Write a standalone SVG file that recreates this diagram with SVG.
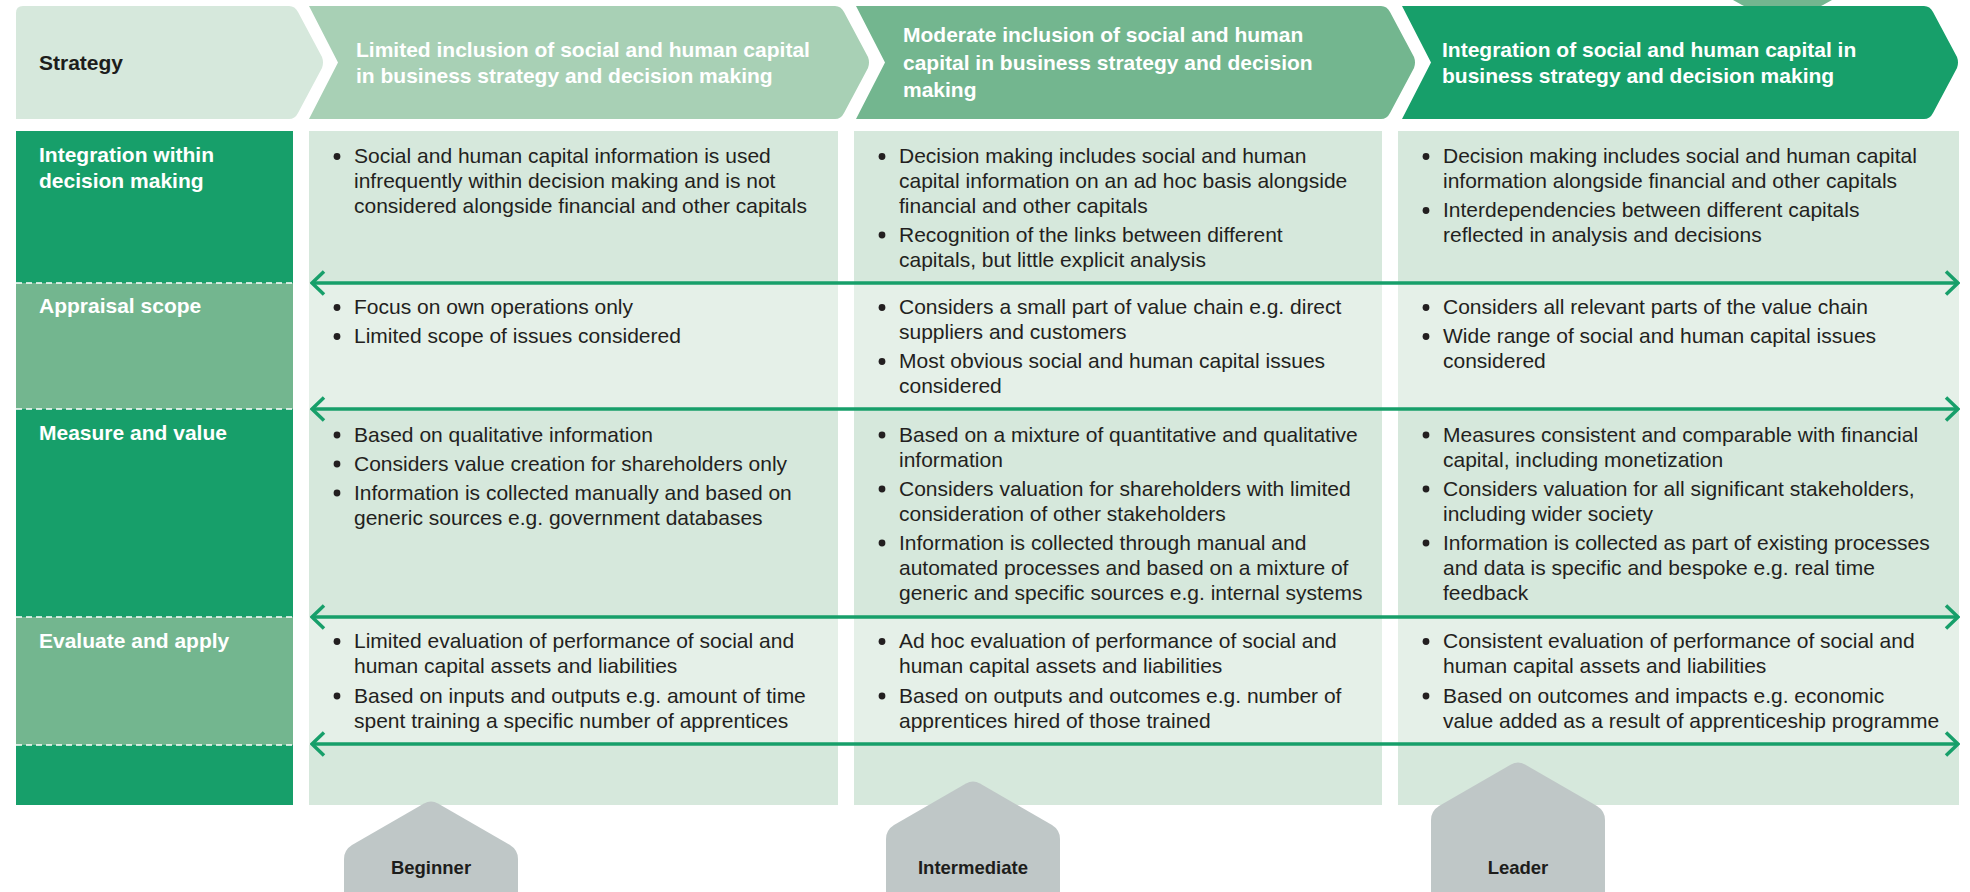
<svg xmlns="http://www.w3.org/2000/svg" width="1970" height="892" viewBox="0 0 1970 892">
<style>
  text { font-family: "Liberation Sans", Arial, Helvetica, sans-serif; }
  .hdr { font-size: 21px; font-weight: bold; fill: #ffffff; }
  .hdr-dark { font-size: 21px; font-weight: bold; fill: #1d1d1b; }
  .lbl { font-size: 21px; font-weight: bold; fill: #ffffff; }
  .body { font-size: 21px; fill: #231f20; }
  .badge-t { font-size: 18.5px; font-weight: bold; fill: #1d1d1b; text-anchor: middle; }
  .dk { fill: #179f6a; }
  .lt { fill: #73b68f; }
  .c1 { fill: #d6e8dc; }
  .c2 { fill: #e5f0e8; }
  .dash { stroke: #ffffff; stroke-width: 1.5; stroke-dasharray: 6 4; fill: none; }
  .bul { fill: #231f20; }
  .badge { fill: #bfc7c7; }
  .arrow { stroke: #179f6a; stroke-width: 3.5; fill: none; marker-start: url(#ah); marker-end: url(#ah); }
</style>
<defs>
  <marker id="ah" viewBox="0 0 16 26" refX="14" refY="13" markerWidth="16" markerHeight="26" markerUnits="userSpaceOnUse" orient="auto-start-reverse">
    <path d="M2,1.5 L14,13 L2,24.5" fill="none" stroke="#179f6a" stroke-width="3.5"/>
  </marker>
  <circle id="b" r="3.4"/>
</defs>
<rect width="1970" height="892" fill="#ffffff"/>

<!-- partial shape at top right -->
<path d="M1733,0 L1832,0 L1823,5 Q1821,6.5 1817,6.5 L1748,6.5 Q1744,6.5 1742,5 Z" fill="#73b68f"/>

<!-- Header -->
<g id="hdr-strategy">
  <path d="M16,13 Q16,6 23,6 L289,6 Q295,6 298,12 L322,57 Q324,62.5 322,68 L298,113 Q295,119 289,119 L16,119 Z" fill="#d6e8dc"/>
  <text class="hdr-dark" x="39" y="70">Strategy</text>
</g>
<g id="hdr-limited">
  <path d="M309,6 L835,6 Q841,6 844,12 L868,57 Q870,62.5 868,68 L844,113 Q841,119 835,119 L309,119 L338,62.5 Z" fill="#a8d0b5"/>
  <text class="hdr" x="356" y="57">Limited inclusion of social and human capital</text>
  <text class="hdr" x="356" y="83">in business strategy and decision making</text>
</g>
<g id="hdr-moderate">
  <path d="M856,6 L1381,6 Q1387,6 1390,12 L1414,57 Q1416,62.5 1414,68 L1390,113 Q1387,119 1381,119 L856,119 L885,62.5 Z" fill="#73b68f"/>
  <text class="hdr" x="903" y="42">Moderate inclusion of social and human</text>
  <text class="hdr" x="903" y="69.5">capital in business strategy and decision</text>
  <text class="hdr" x="903" y="97">making</text>
</g>
<g id="hdr-integration">
  <path d="M1402,6 L1924,6 Q1930,6 1933,12 L1957,57 Q1959,62.5 1957,68 L1933,113 Q1930,119 1924,119 L1402,119 L1431,62.5 Z" fill="#179f6a"/>
  <text class="hdr" x="1442" y="57">Integration of social and human capital in</text>
  <text class="hdr" x="1442" y="83">business strategy and decision making</text>
</g>

<!-- Row labels -->
<g id="label-column">
  <rect class="dk" x="16" y="131" width="277" height="152"/>
  <rect class="lt" x="16" y="283" width="277" height="126"/>
  <rect class="dk" x="16" y="409" width="277" height="208"/>
  <rect class="lt" x="16" y="617" width="277" height="128"/>
  <rect class="dk" x="16" y="745" width="277" height="60"/>
  <line class="dash" x1="16" y1="283" x2="293" y2="283"/>
  <line class="dash" x1="16" y1="409" x2="293" y2="409"/>
  <line class="dash" x1="16" y1="617" x2="293" y2="617"/>
  <line class="dash" x1="16" y1="745" x2="293" y2="745"/>
</g>
<g id="label-integration">
  <text class="lbl" x="39" y="162">Integration within</text>
  <text class="lbl" x="39" y="188">decision making</text>
</g>
<g id="label-appraisal"><text class="lbl" x="39" y="313">Appraisal scope</text></g>
<g id="label-measure"><text class="lbl" x="39" y="440">Measure and value</text></g>
<g id="label-evaluate"><text class="lbl" x="39" y="648">Evaluate and apply</text></g>

<!-- Column backgrounds -->
<g id="col-backgrounds">
  <rect class="c1" x="309" y="131" width="529" height="152"/>
  <rect class="c2" x="309" y="283" width="529" height="126"/>
  <rect class="c1" x="309" y="409" width="529" height="208"/>
  <rect class="c2" x="309" y="617" width="529" height="128"/>
  <rect class="c1" x="309" y="745" width="529" height="60"/>
  <rect class="c1" x="854" y="131" width="528" height="152"/>
  <rect class="c2" x="854" y="283" width="528" height="126"/>
  <rect class="c1" x="854" y="409" width="528" height="208"/>
  <rect class="c2" x="854" y="617" width="528" height="128"/>
  <rect class="c1" x="854" y="745" width="528" height="60"/>
  <rect class="c1" x="1398" y="131" width="561" height="152"/>
  <rect class="c2" x="1398" y="283" width="561" height="126"/>
  <rect class="c1" x="1398" y="409" width="561" height="208"/>
  <rect class="c2" x="1398" y="617" width="561" height="128"/>
  <rect class="c1" x="1398" y="745" width="561" height="60"/>
</g>

<!-- Row 1: Integration within decision making -->
<g id="cell-r1-c1">
  <use href="#b" class="bul" x="337" y="156.5"/>
  <text class="body" x="354" y="163">Social and human capital information is used</text>
  <text class="body" x="354" y="188">infrequently within decision making and is not</text>
  <text class="body" x="354" y="212.5">considered alongside financial and other capitals</text>
</g>
<g id="cell-r1-c2">
  <use href="#b" class="bul" x="882" y="156.5"/>
  <text class="body" x="899" y="163">Decision making includes social and human</text>
  <text class="body" x="899" y="188">capital information on an ad hoc basis alongside</text>
  <text class="body" x="899" y="212.5">financial and other capitals</text>
  <use href="#b" class="bul" x="882" y="235"/>
  <text class="body" x="899" y="241.5">Recognition of the links between different</text>
  <text class="body" x="899" y="266.5">capitals, but little explicit analysis</text>
</g>
<g id="cell-r1-c3">
  <use href="#b" class="bul" x="1426" y="156.5"/>
  <text class="body" x="1443" y="163">Decision making includes social and human capital</text>
  <text class="body" x="1443" y="188">information alongside financial and other capitals</text>
  <use href="#b" class="bul" x="1426" y="210.5"/>
  <text class="body" x="1443" y="217">Interdependencies between different capitals</text>
  <text class="body" x="1443" y="242">reflected in analysis and decisions</text>
</g>

<!-- Row 2: Appraisal scope -->
<g id="cell-r2-c1">
  <use href="#b" class="bul" x="337" y="307.5"/>
  <text class="body" x="354" y="314">Focus on own operations only</text>
  <use href="#b" class="bul" x="337" y="336.5"/>
  <text class="body" x="354" y="343">Limited scope of issues considered</text>
</g>
<g id="cell-r2-c2">
  <use href="#b" class="bul" x="882" y="307.5"/>
  <text class="body" x="899" y="314">Considers a small part of value chain e.g. direct</text>
  <text class="body" x="899" y="339">suppliers and customers</text>
  <use href="#b" class="bul" x="882" y="361.5"/>
  <text class="body" x="899" y="368">Most obvious social and human capital issues</text>
  <text class="body" x="899" y="393">considered</text>
</g>
<g id="cell-r2-c3">
  <use href="#b" class="bul" x="1426" y="307.5"/>
  <text class="body" x="1443" y="314">Considers all relevant parts of the value chain</text>
  <use href="#b" class="bul" x="1426" y="336.5"/>
  <text class="body" x="1443" y="343">Wide range of social and human capital issues</text>
  <text class="body" x="1443" y="368">considered</text>
</g>

<!-- Row 3: Measure and value -->
<g id="cell-r3-c1">
  <use href="#b" class="bul" x="337" y="435"/>
  <text class="body" x="354" y="441.5">Based on qualitative information</text>
  <use href="#b" class="bul" x="337" y="464"/>
  <text class="body" x="354" y="470.5">Considers value creation for shareholders only</text>
  <use href="#b" class="bul" x="337" y="493"/>
  <text class="body" x="354" y="499.5">Information is collected manually and based on</text>
  <text class="body" x="354" y="524.5">generic sources e.g. government databases</text>
</g>
<g id="cell-r3-c2">
  <use href="#b" class="bul" x="882" y="435"/>
  <text class="body" x="899" y="441.5">Based on a mixture of quantitative and qualitative</text>
  <text class="body" x="899" y="466.5">information</text>
  <use href="#b" class="bul" x="882" y="489"/>
  <text class="body" x="899" y="495.5">Considers valuation for shareholders with limited</text>
  <text class="body" x="899" y="520.5">consideration of other stakeholders</text>
  <use href="#b" class="bul" x="882" y="543"/>
  <text class="body" x="899" y="549.5">Information is collected through manual and</text>
  <text class="body" x="899" y="574.5">automated processes and based on a mixture of</text>
  <text class="body" x="899" y="599.5">generic and specific sources e.g. internal systems</text>
</g>
<g id="cell-r3-c3">
  <use href="#b" class="bul" x="1426" y="435"/>
  <text class="body" x="1443" y="441.5">Measures consistent and comparable with financial</text>
  <text class="body" x="1443" y="466.5">capital, including monetization</text>
  <use href="#b" class="bul" x="1426" y="489"/>
  <text class="body" x="1443" y="495.5">Considers valuation for all significant stakeholders,</text>
  <text class="body" x="1443" y="520.5">including wider society</text>
  <use href="#b" class="bul" x="1426" y="543"/>
  <text class="body" x="1443" y="549.5">Information is collected as part of existing processes</text>
  <text class="body" x="1443" y="574.5">and data is specific and bespoke e.g. real time</text>
  <text class="body" x="1443" y="599.5">feedback</text>
</g>

<!-- Row 4: Evaluate and apply -->
<g id="cell-r4-c1">
  <use href="#b" class="bul" x="337" y="641.5"/>
  <text class="body" x="354" y="648">Limited evaluation of performance of social and</text>
  <text class="body" x="354" y="673">human capital assets and liabilities</text>
  <use href="#b" class="bul" x="337" y="696"/>
  <text class="body" x="354" y="702.5">Based on inputs and outputs e.g. amount of time</text>
  <text class="body" x="354" y="727.5">spent training a specific number of apprentices</text>
</g>
<g id="cell-r4-c2">
  <use href="#b" class="bul" x="882" y="641.5"/>
  <text class="body" x="899" y="648">Ad hoc evaluation of performance of social and</text>
  <text class="body" x="899" y="673">human capital assets and liabilities</text>
  <use href="#b" class="bul" x="882" y="696"/>
  <text class="body" x="899" y="702.5">Based on outputs and outcomes e.g. number of</text>
  <text class="body" x="899" y="727.5">apprentices hired of those trained</text>
</g>
<g id="cell-r4-c3">
  <use href="#b" class="bul" x="1426" y="641.5"/>
  <text class="body" x="1443" y="648">Consistent evaluation of performance of social and</text>
  <text class="body" x="1443" y="673">human capital assets and liabilities</text>
  <use href="#b" class="bul" x="1426" y="696"/>
  <text class="body" x="1443" y="702.5">Based on outcomes and impacts e.g. economic</text>
  <text class="body" x="1443" y="727.5">value added as a result of apprenticeship programme</text>
</g>

<!-- Connectors -->
<g id="connectors">
  <line class="arrow" x1="312" y1="283" x2="1958" y2="283"/>
  <line class="arrow" x1="312" y1="409" x2="1958" y2="409"/>
  <line class="arrow" x1="312" y1="617" x2="1958" y2="617"/>
  <line class="arrow" x1="312" y1="744" x2="1958" y2="744"/>
</g>

<!-- Badges -->
<g id="badge-beginner">
  <path class="badge" d="M344,900 L344,859 Q344,850 352,845 L424,803.5 Q431,799.5 438,803.5 L510,845 Q518,850 518,859 L518,900 Z"/>
  <text class="badge-t" x="431" y="874">Beginner</text>
</g>
<g id="badge-intermediate">
  <path class="badge" d="M886,900 L886,839 Q886,830 894,825 L966,783.5 Q973,779.5 980,783.5 L1052,825 Q1060,830 1060,839 L1060,900 Z"/>
  <text class="badge-t" x="973" y="874">Intermediate</text>
</g>
<g id="badge-leader">
  <path class="badge" d="M1431,900 L1431,820 Q1431,811 1439,806 L1511,764.5 Q1518,760.5 1525,764.5 L1597,806 Q1605,811 1605,820 L1605,900 Z"/>
  <text class="badge-t" x="1518" y="874">Leader</text>
</g>
</svg>
